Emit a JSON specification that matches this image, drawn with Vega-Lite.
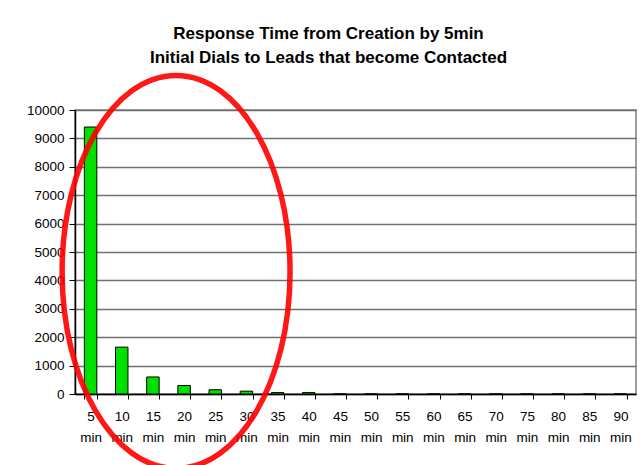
{
  "$schema": "https://vega.github.io/schema/vega-lite/v6.json",
  "width": 561,
  "height": 284,
  "autosize": {"type": "none"},
  "padding": {"left": 75, "top": 110, "right": 4, "bottom": 71},
  "background": "white",
  "title": {
    "text": ["Response Time from Creation by 5min", "Initial Dials to Leads that become Contacted"],
    "font": "Liberation Sans",
    "fontSize": 17,
    "fontWeight": "bold",
    "color": "black",
    "lineHeight": 24,
    "anchor": "middle",
    "dx": -27,
    "offset": -3
  },
  "config": {
    "font": "Liberation Sans",
    "view": {"stroke": "#808080", "strokeWidth": 1.5}
  },
  "encoding": {
    "x": {
      "field": "time",
      "type": "nominal",
      "sort": null,
      "scale": {"paddingInner": 0.6, "paddingOuter": 0.3},
      "axis": {
        "title": null,
        "labelAngle": 0,
        "labelExpr": "split(datum.label, ' ')",
        "labelLineHeight": 21,
        "labelFontSize": 13.5,
        "labelColor": "black",
        "labelPadding": 10,
        "labelOverlap": false,
        "tickBand": "extent",
        "tickSize": 5,
        "tickColor": "black",
        "domainColor": "black",
        "domainWidth": 1.5
      }
    },
    "y": {
      "field": "count",
      "type": "quantitative",
      "scale": {"domain": [0, 10000], "nice": false},
      "axis": {
        "title": null,
        "values": [0, 1000, 2000, 3000, 4000, 5000, 6000, 7000, 8000, 9000, 10000],
        "format": "d",
        "labelOverlap": false,
        "labelFontSize": 13.5,
        "labelColor": "black",
        "labelPadding": 5,
        "tickSize": 6,
        "tickColor": "black",
        "domainColor": "black",
        "domainWidth": 1.5,
        "gridColor": "#707070",
        "gridWidth": 1.4
      }
    }
  },
  "layer": [
    {
      "data": {
        "values": [
          {"time": "5 min", "count": 9400},
          {"time": "10 min", "count": 1650},
          {"time": "15 min", "count": 600},
          {"time": "20 min", "count": 300},
          {"time": "25 min", "count": 150},
          {"time": "30 min", "count": 100},
          {"time": "35 min", "count": 50},
          {"time": "40 min", "count": 50},
          {"time": "45 min", "count": 0},
          {"time": "50 min", "count": 0},
          {"time": "55 min", "count": 0},
          {"time": "60 min", "count": 0},
          {"time": "65 min", "count": 0},
          {"time": "70 min", "count": 0},
          {"time": "75 min", "count": 0},
          {"time": "80 min", "count": 0},
          {"time": "85 min", "count": 0},
          {"time": "90 min", "count": 0}
        ]
      },
      "mark": {"type": "bar", "fill": "#00E000", "stroke": "black", "strokeWidth": 1}
    },
    {
      "data": {"values": [{"time": "20 min", "count": 4300}]},
      "mark": {
        "type": "point",
        "shape": "M -0.58 0 A 0.58 1 0 1 0 0.58 0 A 0.58 1 0 1 0 -0.58 0 Z",
        "size": 154449,
        "filled": false,
        "stroke": "#FF0000",
        "strokeWidth": 5.5,
        "opacity": 0.9,
        "xOffset": -8
      }
    }
  ]
}
